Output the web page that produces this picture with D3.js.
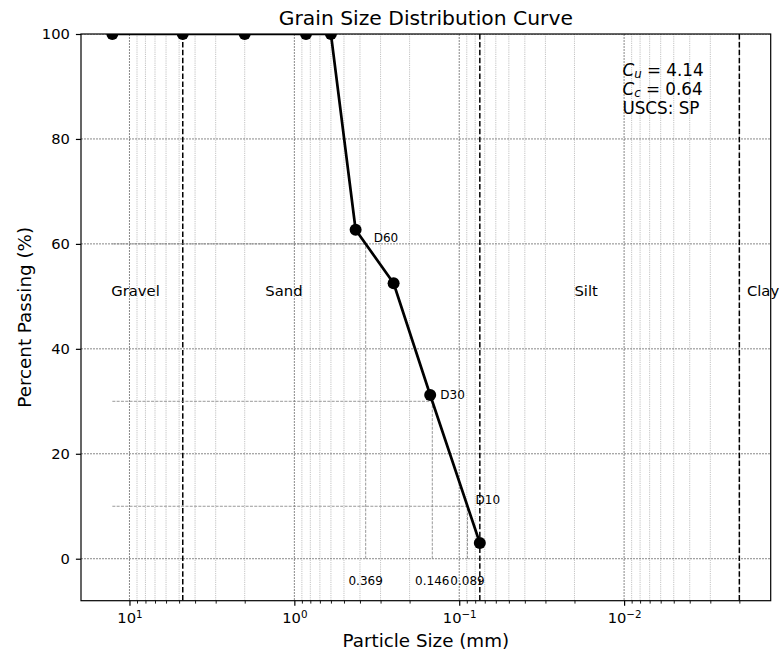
<!DOCTYPE html>
<meta charset="utf-8">
<style>
body { margin: 0; background: #fff; }
svg { display: block; }
text { font-family: "DejaVu Sans", sans-serif; fill: #000; }
</style>
<script src="https://cdn.jsdelivr.net/npm/d3@7"></script>
<div id="chart"></div>
<script>
// sieve data (mm, % passing)
const diameters = [12.7, 4.75, 2.0, 0.85, 0.6, 0.425, 0.25, 0.15, 0.075];
const percentPassing = [100, 100, 100, 100, 100, 62.7, 52.5, 31.2, 3.0];

// soil zone boundaries and labels
const zoneBoundaries = [4.75, 0.075, 0.002];
const zoneNames = ["Gravel", "Sand", "Silt", "Clay"];
const zoneLabelAt = [12.9, 1.5, 0.02, 0.0018];

const dTargets = [60, 30, 10];
const yTicks = [0, 20, 40, 60, 80, 100];
const xMajorTicks = [10, 1, 0.1, 0.01];
const summaryCu = "4.14", summaryCc = "0.64", summaryUscs = "SP";

var margin = {top: 34, right: 8.3, bottom: 54.3, left: 81},
    width = 779 - margin.left - margin.right,
    height = 655 - margin.top - margin.bottom;

var svg = d3.select("#chart").append("svg")
    .attr("width", 779).attr("height", 655)
    .style("overflow", "visible");
var g = svg.append("g")
    .attr("transform", "translate(" + margin.left + "," + margin.top + ")");

// x limits: data + boundary lines, 5% padding in log space (matplotlib style)
var lhi = Math.log10(d3.max(diameters)), llo = Math.log10(d3.min(zoneBoundaries));
var pad = 0.05 * (lhi - llo);
var x = d3.scaleLog()
    .domain([Math.pow(10, lhi + pad), Math.pow(10, llo - pad)])
    .range([0, width]);
var y = d3.scaleLinear().domain([-8, 100]).range([height, 0]);

svg.append("defs").append("clipPath").attr("id", "clip")
  .append("rect").attr("width", width).attr("height", height);

var plot = g.append("g").attr("clip-path", "url(#clip)");

// minor tick values
var minors = [];
for (var e = -3; e <= 1; e++) {
  for (var m = 2; m <= 9; m++) {
    var v = m * Math.pow(10, e);
    if (v <= x.domain()[0] && v >= x.domain()[1]) minors.push(v);
  }
}

// grid
plot.selectAll(".gminor").data(minors).enter().append("line")
    .attr("x1", d => x(d)).attr("x2", d => x(d))
    .attr("y1", 0).attr("y2", height)
    .attr("stroke", "#9a9a9a").attr("stroke-width", 0.6)
    .attr("stroke-dasharray", "1.2,1");
plot.selectAll(".gmajx").data(xMajorTicks).enter().append("line")
    .attr("x1", d => x(d)).attr("x2", d => x(d))
    .attr("y1", 0).attr("y2", height)
    .attr("stroke", "#555").attr("stroke-width", 0.7)
    .attr("stroke-dasharray", "2,1");
plot.selectAll(".gmajy").data(yTicks).enter().append("line")
    .attr("x1", 0).attr("x2", width)
    .attr("y1", d => y(d)).attr("y2", d => y(d))
    .attr("stroke", "#555").attr("stroke-width", 0.7)
    .attr("stroke-dasharray", "2,1");

// zone boundaries
plot.selectAll(".zone").data(zoneBoundaries).enter().append("line")
    .attr("x1", d => x(d)).attr("x2", d => x(d))
    .attr("y1", 0).attr("y2", height)
    .attr("stroke", "#000").attr("stroke-width", 1.5)
    .attr("stroke-dasharray", "5.5,2.4");

// D values by log interpolation
function dValue(p) {
  for (var i = 0; i < diameters.length - 1; i++) {
    var p1 = percentPassing[i], p2 = percentPassing[i + 1];
    if (p <= p1 && p >= p2 && p1 !== p2) {
      var l1 = Math.log10(diameters[i]), l2 = Math.log10(diameters[i + 1]);
      return Math.pow(10, l1 + (p1 - p) / (p1 - p2) * (l2 - l1));
    }
  }
}
var dData = dTargets.map(p => ({p: p, d: dValue(p)}));

// guide lines
plot.selectAll(".hguide").data(dData).enter().append("line")
    .attr("x1", x(d3.max(diameters))).attr("x2", d => x(d.d))
    .attr("y1", d => y(d.p)).attr("y2", d => y(d.p))
    .attr("stroke", "#808080").attr("stroke-width", 0.8)
    .attr("stroke-dasharray", "3,1.3");
plot.selectAll(".vguide").data(dData).enter().append("line")
    .attr("x1", d => x(d.d)).attr("x2", d => x(d.d))
    .attr("y1", y(0)).attr("y2", d => y(d.p))
    .attr("stroke", "#808080").attr("stroke-width", 0.8)
    .attr("stroke-dasharray", "3,1.3");

// curve
var pts = diameters.map((d, i) => [d, percentPassing[i]]);
plot.append("path").datum(pts)
    .attr("fill", "none").attr("stroke", "#000").attr("stroke-width", 2.7)
    .attr("stroke-linejoin", "round")
    .attr("d", d3.line().x(d => x(d[0])).y(d => y(d[1])));
plot.selectAll(".pt").data(pts).enter().append("circle")
    .attr("cx", d => x(d[0])).attr("cy", d => y(d[1])).attr("r", 6)
    .attr("fill", "#000");

// D labels
g.selectAll(".dlab").data(dData).enter().append("text")
    .attr("x", d => x(d.d) + 8).attr("y", d => y(d.p) - 2)
    .style("font-size", "12px").text(d => "D" + d.p);
g.selectAll(".dnum").data(dData).enter().append("text")
    .attr("x", d => x(d.d)).attr("y", y(-5))
    .attr("text-anchor", "middle")
    .style("font-size", "12px").text(d => d.d.toFixed(3));

// zone names
g.selectAll(".zlab").data(zoneNames).enter().append("text")
    .attr("x", (d, i) => x(zoneLabelAt[i])).attr("y", y(50))
    .style("font-size", "14.8px").text(d => d);

// axes
var xAxis = g.append("g").attr("transform", "translate(0," + height + ")")
    .call(d3.axisBottom(x).tickValues(xMajorTicks).tickSize(5.1).tickFormat(""));
xAxis.selectAll(".tick line").attr("stroke-width", 1.2);
xAxis.selectAll(".tick").append("text")
    .attr("y", 22.3).attr("text-anchor", "middle")
    .style("font-size", "14.7px")
    .each(function(d) {
      var t = d3.select(this);
      var ex = Math.round(Math.log10(d));
      t.append("tspan").text("10");
      t.append("tspan").attr("dy", -5).style("font-size", "10.3px")
        .text(String(ex).replace("-", "\u2212"));
    });
var xMinor = g.append("g").attr("transform", "translate(0," + height + ")")
    .call(d3.axisBottom(x).tickValues(minors).tickSize(2.9).tickFormat(""));
xMinor.selectAll(".tick line").attr("stroke-width", 0.9);
xAxis.select(".domain").remove();
xMinor.select(".domain").remove();

var yAxis = g.append("g")
    .call(d3.axisLeft(y).tickValues(yTicks).tickSize(5.1).tickPadding(6));
yAxis.select(".domain").remove();
yAxis.selectAll(".tick line").attr("stroke-width", 1.2);
yAxis.selectAll(".tick text").style("font-size", "14.7px")
    .style("font-family", "DejaVu Sans").attr("fill", "#000");

// frame
g.append("rect").attr("width", width).attr("height", height)
    .attr("fill", "none").attr("stroke", "#000").attr("stroke-width", 1.2);

// summary text
var sx = width * 0.785;
function mathLine(yy, sub, val) {
  var t = g.append("text").attr("x", sx).attr("y", yy).style("font-size", "16.8px");
  t.append("tspan").style("font-style", "italic").text("C");
  t.append("tspan").attr("dy", 1.8).style("font-style", "italic")
    .style("font-size", "11.8px").text(sub);
  t.append("tspan").attr("dy", -1.8).text(" = " + val);
}
mathLine(42, "u", summaryCu);
mathLine(61, "c", summaryCc);
g.append("text").attr("x", sx).attr("y", 80).style("font-size", "16.8px")
    .text("USCS: " + summaryUscs);

// titles
svg.append("text").attr("x", margin.left + width / 2).attr("y", 25)
    .attr("text-anchor", "middle").style("font-size", "20.3px")
    .text("Grain Size Distribution Curve");
svg.append("text").attr("x", margin.left + width / 2).attr("y", 646.5)
    .attr("text-anchor", "middle").style("font-size", "18.3px")
    .text("Particle Size (mm)");
svg.append("text")
    .attr("transform", "translate(30.5," + (margin.top + height / 2) + ") rotate(-90)")
    .attr("text-anchor", "middle").style("font-size", "18.3px")
    .text("Percent Passing (%)");
</script>
